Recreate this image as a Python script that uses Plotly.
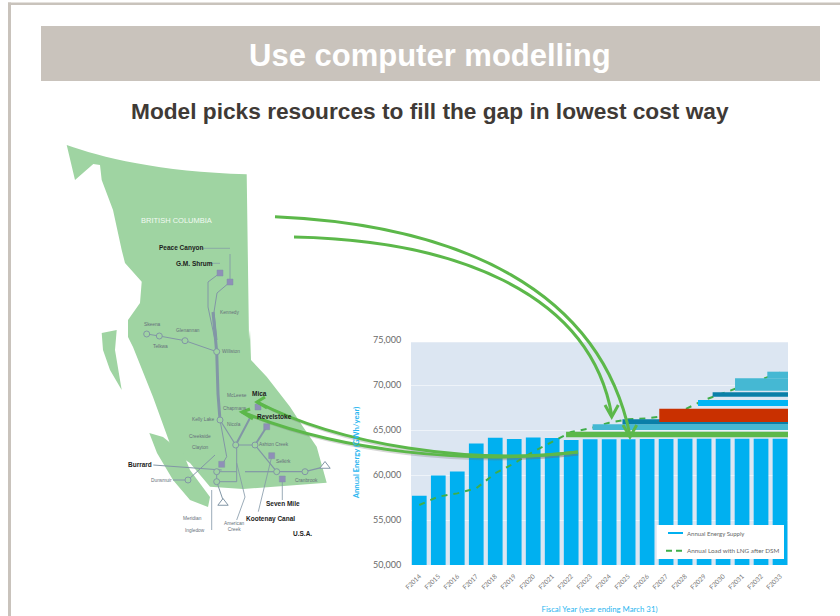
import plotly.graph_objects as go

# ---- chart data -------------------------------------------------------------
years = ["F2014","F2015","F2016","F2017","F2018","F2019","F2020","F2021","F2022","F2023",
         "F2024","F2025","F2026","F2027","F2028","F2029","F2030","F2031","F2032","F2033"]
supply = [57700,59950,60400,63500,64150,64000,64180,64100,63900,63980,
          63980,63980,64000,64000,64020,64020,64020,64020,64020,64020]
load = [56670,57590,57960,58520,60190,61300,62590,63700,64780,65180,
        65810,66190,66300,66550,67300,68330,69070,69810,70630,71370]

# new resources: first fiscal-year position, bottom and top of each block (GWh), colour
res_start = [7.73, 9.13, 10.7, 12.64, 14.68, 15.45, 16.63, 18.33]
res_low   = [64200, 65000, 65630, 65890, 67670, 68700, 69370, 70740]
res_high  = [64800, 65630, 66190, 67370, 68330, 69190, 70740, 71480]
res_color = ["#5cb84a", "#45b8d3", "#0a7fa8", "#c93000", "#00b5f5", "#0a7fa8", "#45b8d3", "#45b8d3"]

# ---- map annotations --------------------------------------------------------
map_labels = ["Peace Canyon","G.M. Shrum","Burrard","Seven Mile","Kootenay Canal","U.S.A.","Mica","Revelstoke"]
map_label_x = [180.7,194,140,282.7,270.7,302.3,259,274]
map_label_y = [248.3,263.3,464,503.7,519.3,533.3,393.3,416]
minor_labels = ["Kennedy","Skeena","Glenannan","Telkwa","Williston","McLeese","Chapmans","Kelly Lake","Nicola",
                "Ashton Creek","Creekside","Clayton","Selkirk","Dunsmuir","Cranbrook","Meridian","Ingledow","American<br>Creek"]
minor_x = [230,152.7,187.7,160.7,230.7,236.7,235,203,234,274,200,200.7,283,161,306.7,192.7,195,234]
minor_y = [312,324,330,346.7,351.7,395,408,419,424,444,436.7,447.7,461,480,480.7,518,530.7,526]

fig = go.Figure()

# ---- bars + load line + resource blocks -------------------------------------
fig.add_bar(x=list(range(len(years))), y=supply, name="Annual Energy Supply",
            marker=dict(color="#00b0f0", line_width=0), width=0.775, showlegend=False)
fig.add_scatter(x=list(range(len(years))), y=load, mode="lines", name="Annual Load with LNG after DSM",
                line=dict(color="#3fae49", width=2, dash="6px,6px"), showlegend=False)
X_END = 19.42
for s, lo, hi, c in zip(res_start, res_low, res_high, res_color):
    fig.add_scatter(x=[s, X_END, X_END, s, s], y=[lo, lo, hi, hi, lo], mode="lines", fill="toself",
                    fillcolor=c, line=dict(color=c, width=0), showlegend=False, hoverinfo="skip")

# ---- illustration layer, in slide pixels -------------------------------------
P = dict(xref="x2", yref="y2")
GREY = "#c9c3bc"
MAP = "#9fd4a2"
LINE = "#8296a6"
shapes = [
    dict(type="rect", xref="x domain", yref="y domain", x0=0, x1=1, y0=0, y1=0.99, fillcolor="#dce6f2", line_width=0, layer="below"),
    dict(type="rect", x0=8, x1=840, y0=2.5, y1=5, fillcolor=GREY, line_width=0, layer="below", **P),
    dict(type="rect", x0=8, x1=11, y0=2.5, y1=616, fillcolor=GREY, line_width=0, layer="below", **P),
    dict(type="rect", x0=41, x1=820, y0=26, y1=81, fillcolor=GREY, line_width=0, layer="below", **P),
]
mainland = ("M66.7,145 C100,157 160,172 246.7,174.3 L249,340 L250,330 L251,360 L266.7,376.7 L290,406.7 "
            "L303,426.7 L316.7,446.7 L326.7,482.7 L243,489 L210,486.7 L190,463 L173,452 L153,397 L133,347 L128,337 "
            "L128,320 L140,303 L141.7,281.7 L125,263 L121.7,250 L113,210 L101.7,180 L100,165 L93.3,164 L75,180 Z")
vancouver = "M149.3,433 L163,437 L183,453 L190,470 L210,497 L208,507 L190,500 L173,480 L157,453 Z"
haida = "M101.7,333 L116.7,330 L115,350 L121.7,390 L110,370 L103,350 Z"
for p in (mainland, vancouver, haida):
    shapes.append(dict(type="path", path=p, fillcolor=MAP, line_width=0, layer="below", **P))
grid = [
    ([(220,273),(208,282),(208,307),(215,340)],1),
    ([(230,282),(217,293),(214,312),(217,340)],1),
    ([(230,254),(230,282)],0.8),
    ([(213,312),(216.7,352),(218,394),(220,420)],3),
    ([(146.7,334),(159.3,336),(185,340.7),(216.7,351.7)],1),
    ([(220,420),(235.7,445)],1.2),
    ([(220,420),(226.7,456.7),(223,463)],1),
    ([(235.7,445),(255,445),(276.7,471.7),(305,471.7),(325,466.7)],1.2),
    ([(255,445),(266.7,426.7)],2),
    ([(235.7,445),(250,418)],2),
    ([(216.7,471.7),(236.7,471.7),(236.7,445)],1),
    ([(216.7,481.7),(236.7,481.7),(236.7,471.7)],1),
    ([(245,471.7),(276.7,471.7)],1.2),
    ([(153.3,465),(221.7,470)],1),
    ([(173,480),(188,480),(215,455)],1),
    ([(216.7,471.7),(216.7,481.7),(223,500)],1),
    ([(211.7,490),(211.7,530)],0.8),
    ([(236.7,463),(245,497),(236.7,520)],0.8),
    ([(271.7,456.7),(258.3,511.7)],0.8),
    ([(282.3,480),(282.3,500)],0.8),
    ([(200,248.3),(230,248.3)],0.7),
    ([(208,263.3),(220,263.3)],0.7),
]
for pts, w in grid:
    path = "M" + " L".join(f"{x},{y}" for x, y in pts)
    shapes.append(dict(type="path", path=path, line=dict(color=LINE, width=w), layer="below", **P))

# legend box
shapes.append(dict(type="rect", x0=656.7, x1=784, y0=525, y1=559, fillcolor="white", line_width=0, layer="above", **P))
shapes.append(dict(type="line", x0=668, x1=683, y0=533, y1=533, line=dict(color="#00b0f0", width=2), layer="above", **P))
shapes.append(dict(type="line", x0=666, x1=684, y0=550.7, y1=550.7, line=dict(color="#3fae49", width=2, dash="6px,4px"), layer="above", **P))

# green arrows
ARROW = "#5cb84a"
curves = [
    "M578,452 C470,465 340,445 257,402",
    "M578,452 C470,465 340,452 242,412",
    "M275,216.7 C460,225 600,290 630,435",
    "M294,237 C450,240 590,290 611.7,415",
]
heads = [
    "M265,397 L257,402 L267,408",
    "M250,409 L242,412 L253,419",
    "M623,425 L630,437 L636.7,425",
    "M605,405 L611.7,417 L618.3,405",
]
for c in curves[:2]:
    shapes.append(dict(type="path", path=c.replace("578,452","578,454").replace("470,465","470,467").replace("340,445","340,447").replace("340,452","340,454"),
                       line=dict(color="rgba(110,110,110,0.28)", width=3), layer="above", **P))
for c in curves + heads:
    shapes.append(dict(type="path", path=c, line=dict(color=ARROW, width=3), layer="above", **P))

def ann(text, x, y, size, color, family, bold=False, xanchor="center"):
    return dict(text=f"<b>{text}</b>" if bold else text, x=x, y=y, xref="x2", yref="y2", showarrow=False,
                xanchor=xanchor, yanchor="middle", font=dict(size=size, color=color, family=family),
                align="center", borderpad=0)

ARIAL = "Liberation Sans, Arial, sans-serif"
annotations = [
    ann("Use computer modelling", 430, 55.5, 31, "#ffffff", ARIAL, True),
    ann("Model picks resources to fill the gap in lowest cost way", 430, 111, 22.7, "#3f3a36", ARIAL, True),
    ann("BRITISH COLUMBIA", 176.7, 220.7, 7.5, "#f2faf2", ARIAL),
    ann("Annual Energy Supply", 686, 533.3, 6, "#666666", "Lato, sans-serif", xanchor="left"),
    ann("Annual Load with LNG after DSM", 686, 550.7, 6.3, "#666666", "Lato, sans-serif", xanchor="left"),
]
for t, x, y in zip(map_labels, map_label_x, map_label_y):
    annotations.append(ann(t, x, y, 6.5, "#1c1c1c", ARIAL, True))
for t, x, y in zip(minor_labels, minor_x, minor_y):
    annotations.append(ann(t, x, y, 4.8, "#66707a", ARIAL))

# substation / generation symbols
node_x = [146.7,159.3,185,216.7,220,235.7,255,276.7,305,216.7,216.7,188]
node_y = [334,336,340.7,351.7,420,445,445,471.7,471.7,471.7,481.7,480]
plant_x = [230,220,271.7,282.3,221.7,266.7,258]
plant_y = [282,273,455.7,479,464.3,426.7,407]
tri_x = [325,223]
tri_y = [466,503]
fig.add_scatter(x=node_x, y=node_y, xaxis="x2", yaxis="y2", mode="markers", showlegend=False, hoverinfo="skip",
                marker=dict(symbol="circle", size=6, color=MAP, line=dict(color=LINE, width=1)))
fig.add_scatter(x=plant_x, y=plant_y, xaxis="x2", yaxis="y2", mode="markers", showlegend=False, hoverinfo="skip",
                marker=dict(symbol="square", size=6, color="#8f8fb8", line=dict(color=LINE, width=0.5)))
fig.add_scatter(x=tri_x, y=tri_y, xaxis="x2", yaxis="y2", mode="markers", showlegend=False, hoverinfo="skip",
                marker=dict(symbol="triangle-up", size=9, color="#ffffff", line=dict(color=LINE, width=1)))

fig.update_layout(
    width=840, height=616, margin=dict(l=0, r=0, t=0, b=0), showlegend=False,
    paper_bgcolor="white", plot_bgcolor="rgba(0,0,0,0)", bargap=0.225,
    shapes=shapes, annotations=annotations,
    font=dict(family="Lato, sans-serif"),
    xaxis=dict(domain=[411/840, 788/840], range=[-0.437, X_END], tickmode="array", automargin=False,
               tickvals=list(range(len(years))), ticktext=years, tickangle=-45, showgrid=False, zeroline=False,
               ticks="outside", ticklen=4, tickcolor="rgba(0,0,0,0)",
               tickfont=dict(size=6.5, color="#777777"),
               title=dict(text="Fiscal Year (year ending March 31)", font=dict(size=7.8, color="#29b6f0"), standoff=16)),
    yaxis=dict(domain=[(616-565)/616, (616-340)/616], range=[50000, 75000], tickvals=[50000,55000,60000,65000,70000,75000],
               tickformat=",d", gridcolor="#eef3f9", gridwidth=1, zeroline=False, showline=False, automargin=False,
               ticks="outside", ticklen=7, tickcolor="rgba(0,0,0,0)",
               tickfont=dict(size=9, color="#6a6a6a"),
               title=dict(text="<b>Annual Energy (GWh/year)</b>", font=dict(size=7.7, color="#29b6f0"), standoff=12)),
    xaxis2=dict(domain=[0, 1], range=[0, 840], visible=False, anchor="y2", fixedrange=True, automargin=False),
    yaxis2=dict(domain=[0, 1], range=[616, 0], visible=False, anchor="x2", fixedrange=True, automargin=False),
)
fig.write_html("out.html", config=dict(displayModeBar=False), post_script="document.body.style.margin='0';")
